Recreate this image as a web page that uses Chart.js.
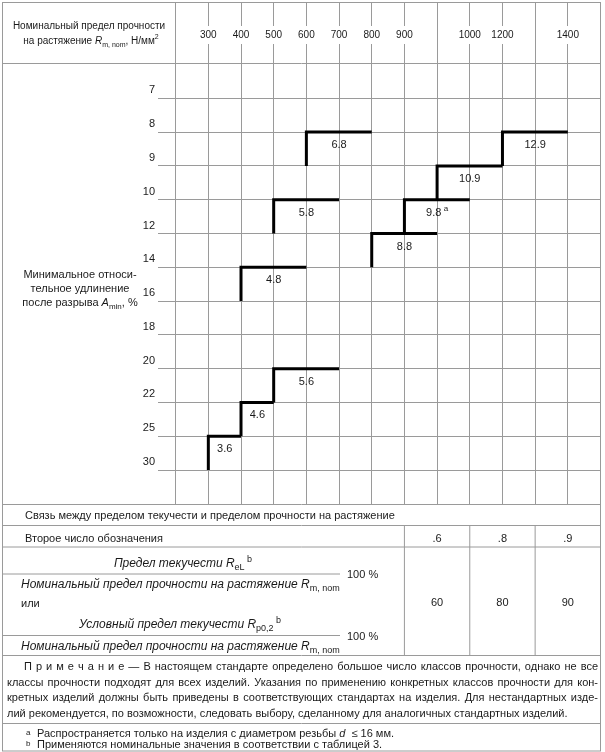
<!DOCTYPE html>
<html><head><meta charset="utf-8">
<script src="https://cdn.jsdelivr.net/npm/chart.js@4.4.0/dist/chart.umd.min.js"></script>
<style>html,body{margin:0;padding:0;background:#fff}#wrap{position:relative;width:605px;height:752px}</style>
</head><body><div id="wrap"><canvas id="c"></canvas></div>
<script>
// ---- data ----
const strengthTicks = ['', '300','400','500','600','700','800','900','','1000','1200','','1400',''];
const elongationTicks = ['7','8','9','10','12','14','16','18','20','22','25','30'];
const grades = ['3.6','4.6','5.6','4.8','5.8','6.8','8.8','9.8','10.9','12.9'];
const gradeColStart = [1,2,3,2,3,4,6,7,8,10];
const gradeColEnd   = [2,3,5,4,5,6,8,9,10,12];
const gradeElongTop    = ['25','22','20','14','10','8','12','10','9','8'];
const gradeElongBottom = ['30','25','22','16','12','9','14','12','10','9'];
const gradeNote = ['','','','','','','','a','',''];
const secondNumbers = ['.6','.8','.9'];
const yieldRatios = ['60','80','90'];
const ratioCols = [7,9,11,13];

const FONT = '"Liberation Sans", Arial, Helvetica, sans-serif';
const GRID = '#9a9a9a';
const TEXT = '#1a1a1a';

const datasets = grades.map((g,i)=>{
  const top = elongationTicks.indexOf(gradeElongTop[i]);
  const bot = elongationTicks.indexOf(gradeElongBottom[i]);
  return {label:g, data:[{x:gradeColEnd[i],y:top},{x:gradeColStart[i],y:top},{x:gradeColStart[i],y:bot}],
    borderColor:'#000', borderWidth:3, pointRadius:0, fill:false, tension:0,
    borderJoinStyle:'miter', borderCapStyle:'butt'};
});

function fontFor(r, base){ const s = r.size || base || 11; return (r.it?'italic ':'') + ((r.sub||r.sup)?Math.round(s*0.72):s) + 'px ' + FONT; }
function drawRich(ctx, runs, x, y, align, base){
  const widths = runs.map(r=>{ctx.font=fontFor(r,base); return ctx.measureText(r.t).width;});
  const total = widths.reduce((a,b)=>a+b,0);
  let cx = align==='center'? x-total/2 : align==='right'? x-total : x;
  ctx.textBaseline='middle'; ctx.textAlign='left'; ctx.fillStyle=TEXT;
  runs.forEach((r,i)=>{ctx.font=fontFor(r,base); const dy = r.sub?3.5:(r.sup?-4:0); ctx.fillText(r.t,cx,y+dy); cx+=widths[i];});
}
function justify(ctx, text, x0, x1, y){
  ctx.font='11px '+FONT; ctx.textBaseline='middle'; ctx.textAlign='left'; ctx.fillStyle=TEXT;
  const words=text.split(' ');
  const ww=words.map(w=>ctx.measureText(w).width);
  const sum=ww.reduce((a,b)=>a+b,0);
  const gap=(x1-x0-sum)/(words.length-1);
  let cx=x0;
  words.forEach((w,i)=>{ctx.fillText(w,cx,y); cx+=ww[i]+gap;});
}
function hline(ctx,x0,x1,y){ctx.beginPath();ctx.moveTo(x0,y);ctx.lineTo(x1,y);ctx.stroke();}
function vline(ctx,x,y0,y1){ctx.beginPath();ctx.moveTo(x,y0);ctx.lineTo(x,y1);ctx.stroke();}

const tablePlugin = {
  id:'tablePlugin',
  afterDatasetsDraw(chart){
    const ctx=chart.ctx, xs=chart.scales.x, ys=chart.scales.y;
    grades.forEach((g,i)=>{
      const top = elongationTicks.indexOf(gradeElongTop[i]);
      const cx = xs.getPixelForValue((gradeColStart[i]+gradeColEnd[i])/2);
      const cy = ys.getPixelForValue(top)+13;
      const runs=[{t:g}];
      if(gradeNote[i]) runs.push({t:' '+gradeNote[i],sup:true});
      drawRich(ctx,runs,cx,cy,'center');
    });
  },
  afterDraw(chart){
    const ctx=chart.ctx, xs=chart.scales.x, ca=chart.chartArea;
    const L=2.5, R=ca.right, T=2.5, B=751;
    ctx.save();
    ctx.strokeStyle=GRID; ctx.lineWidth=1;
    ctx.strokeRect(L,T,R-L,B-T);
    hline(ctx,L,R,ca.top);
    hline(ctx,L,R,ca.bottom);
    // header text
    drawRich(ctx,[{t:'Номинальный предел прочности'}],89,26,'center',10);
    drawRich(ctx,[{t:'на растяжение '},{t:'R',it:true},{t:'m, nom',sub:true},{t:', Н/мм'},{t:'2',sup:true}],91,41.5,'center',10);
    // y title
    drawRich(ctx,[{t:'Минимальное относи-'}],80,275,'center');
    drawRich(ctx,[{t:'тельное удлинение'}],80,289,'center');
    drawRich(ctx,[{t:'после разрыва '},{t:'A',it:true},{t:'min',sub:true},{t:', %'}],80,303,'center');
    // bottom table
    const yRow1=525.5, yRow2=547, yRatioEnd=655.5, yNoteEnd=723.5;
    hline(ctx,L,R,yRow1); hline(ctx,L,R,yRow2); hline(ctx,L,R,yRatioEnd); hline(ctx,L,R,yNoteEnd);
    const colPx = ratioCols.map(c=>xs.getPixelForValue(c));
    for(let k=0;k<3;k++) vline(ctx,colPx[k],yRow1,yRatioEnd);
    drawRich(ctx,[{t:'Связь между пределом текучести и пределом прочности на растяжение'}],25,516,'left');
    drawRich(ctx,[{t:'Второе число обозначения'}],25,539,'left');
    for(let k=0;k<3;k++){
      const mid=(colPx[k]+colPx[k+1])/2;
      drawRich(ctx,[{t:secondNumbers[k]}],mid,539,'center');
      drawRich(ctx,[{t:yieldRatios[k]}],mid,603,'center');
    }
    // ratio formulas
    drawRich(ctx,[{t:'Предел текучести ',it:true},{t:'R',it:true},{t:'eL',sub:true},{t:' b',sup:true}],183,564,'center',12);
    hline(ctx,L,340,574);
    drawRich(ctx,[{t:'100 %'}],347,575,'left');
    drawRich(ctx,[{t:'Номинальный предел прочности на растяжение ',it:true},{t:'R',it:true},{t:'m, nom',sub:true}],21,585,'left',12);
    drawRich(ctx,[{t:'или'}],21,604,'left');
    drawRich(ctx,[{t:'Условный предел текучести ',it:true},{t:'R',it:true},{t:'p0,2',sub:true},{t:' b',sup:true}],180,625,'center',12);
    hline(ctx,L,340,635.5);
    drawRich(ctx,[{t:'100 %'}],347,636.5,'left');
    drawRich(ctx,[{t:'Номинальный предел прочности на растяжение ',it:true},{t:'R',it:true},{t:'m, nom',sub:true}],21,647,'left',12);
    // note
    justify(ctx,'П р и м е ч а н и е — В настоящем стандарте определено большое число классов прочности, однако не все',24,598,667);
    justify(ctx,'классы прочности подходят для всех изделий. Указания по применению конкретных классов прочности для кон-',7,598,682.5);
    justify(ctx,'кретных изделий должны быть приведены в соответствующих стандартах на изделия. Для нестандартных изде-',7,598,698);
    drawRich(ctx,[{t:'лий рекомендуется, по возможности, следовать выбору, сделанному для аналогичных стандартных изделий.'}],7,713.5,'left');
    // footnotes
    drawRich(ctx,[{t:'a',sup:true}],26,737,'left');
    drawRich(ctx,[{t:'Распространяется только на изделия с диаметром резьбы '},{t:'d',it:true},{t:'  ≤ 16 мм.'}],37,734,'left');
    drawRich(ctx,[{t:'b',sup:true}],26,748,'left');
    drawRich(ctx,[{t:'Применяются номинальные значения в соответствии с таблицей 3.'}],37,745,'left');
    ctx.restore();
  }
};

new Chart(document.getElementById('c'),{
  type:'line',
  data:{datasets},
  options:{
    responsive:true, maintainAspectRatio:false, animation:false,
    layout:{padding:{left:0,top:0,right:4.5,bottom:247.5}},
    plugins:{legend:{display:false},tooltip:{enabled:false}},
    scales:{
      x:{type:'linear', position:'top', min:-0.54, max:13,
        afterBuildTicks:(s)=>{s.ticks=strengthTicks.map((_,i)=>({value:i}));},
        afterFit:(s)=>{s.height=63.5;},
        grid:{color:GRID, lineWidth:1, drawTicks:true, tickLength:61, tickColor:GRID},
        border:{display:false},
        ticks:{autoSkip:false, maxRotation:0, minRotation:0, padding:-38.5, color:TEXT,
          font:{family:FONT,size:10},
          callback:(v)=>strengthTicks[v],
          showLabelBackdrop:true, backdropColor:'#fff', backdropPadding:{top:3,bottom:3,left:0,right:0}}
      },
      y:{type:'linear', reverse:true, min:-1.03, max:12.02,
        afterBuildTicks:(s)=>{s.ticks=elongationTicks.map((_,i)=>({value:i}));},
        afterFit:(s)=>{s.width=158;},
        grid:{color:GRID, lineWidth:1, drawTicks:false},
        border:{display:false},
        ticks:{autoSkip:false, padding:3, labelOffset:-8, color:TEXT,
          font:{family:FONT,size:11},
          callback:(v)=>elongationTicks[v]}
      }
    }
  },
  plugins:[tablePlugin]
});
</script></body></html>
